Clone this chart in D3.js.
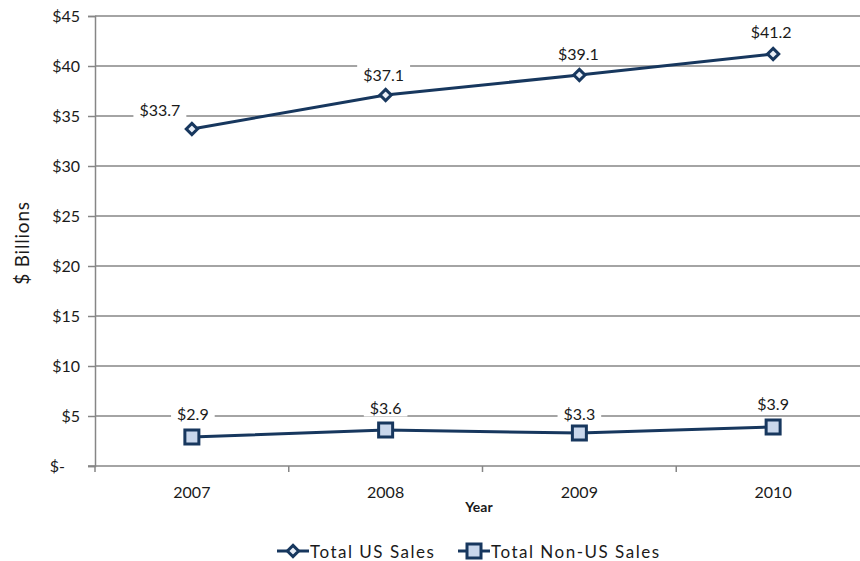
<!DOCTYPE html>
<html><head><meta charset="utf-8">
<script src="https://cdn.jsdelivr.net/npm/d3@7"></script>
<style>body{margin:0;background:#fff}svg{display:block}</style>
</head><body>
<script>
const years = ["2007","2008","2009","2010"];
const usSales = [33.7, 37.1, 39.1, 41.2];
const nonUsSales = [2.9, 3.6, 3.3, 3.9];
const seriesNames = ["Total US Sales","Total Non-US Sales"];
const yTicks = [0,5,10,15,20,25,30,35,40,45];

const W = 860, H = 561;
const font = "Lato, 'Open Sans', sans-serif";
const navy = "#17375e", grid = "#868686", txt = "#1a1a1a";
const svg = d3.select("body").append("svg").attr("width", W).attr("height", H);

const x = d3.scaleBand().domain(years).range([95, 870]).padding(0);
const y = d3.scaleLinear().domain([0,45]).range([466,16]);
const cx = d => x(d) + x.bandwidth()/2;

// gridlines
svg.append("g").selectAll("line").data(yTicks.filter(t=>t>0)).join("line")
  .attr("x1", 95).attr("x2", W).attr("y1", d=>y(d)).attr("y2", d=>y(d))
  .attr("stroke", grid).attr("stroke-width", 1.5);

// y axis
const yAxis = d3.axisLeft(y).tickValues(yTicks).tickSize(7).tickPadding(8)
  .tickFormat(d => d === 0 ? "$-" : "$" + d);
const gy = svg.append("g").attr("transform","translate(95,0)").call(yAxis);
gy.select(".domain").attr("stroke", grid).attr("stroke-width",1.5);
gy.selectAll(".tick line").attr("stroke", grid).attr("stroke-width",1.5);
gy.selectAll("text").attr("font-family", font).attr("font-size", 16).attr("fill", txt);
gy.selectAll(".tick").filter(d=>d===0).select("text").attr("dx", -15);

// x axis
const gx = svg.append("g").attr("transform","translate(0,466)");
gx.append("line").attr("x1",88).attr("x2",W).attr("stroke",grid).attr("stroke-width",1.5);
gx.selectAll("line.t").data(years).join("line").attr("class","t")
  .attr("x1", d=>x(d)).attr("x2", d=>x(d)).attr("y1",0).attr("y2",6)
  .attr("stroke",grid).attr("stroke-width",1.5);
gx.selectAll("text").data(years).join("text")
  .attr("x", d=>cx(d)).attr("y", 32).attr("text-anchor","middle")
  .attr("font-family", font).attr("font-size", 16).attr("fill", txt).text(d=>d);

// axis titles
svg.append("text").attr("x", 479).attr("y", 512).attr("text-anchor","middle")
  .attr("font-family", font).attr("font-size", 14).attr("font-weight","bold").attr("fill", txt).text("Year");
svg.append("text").attr("transform","translate(29,243) rotate(-90)").attr("text-anchor","middle")
  .attr("font-family", font).attr("font-size", 19).attr("letter-spacing", 0.8).attr("fill", txt).text("$ Billions");

const line = d3.line().x((d,i)=>cx(years[i])).y(d=>y(d));

function diamond(g, px, py){
  g.append("path").attr("d", d3.symbol(d3.symbolDiamond2, 80)())
    .attr("transform",`translate(${px},${py})`)
    .attr("fill","#e8eef7").attr("stroke",navy).attr("stroke-width",3);
}
function square(g, px, py){
  g.append("rect").attr("x",px-7).attr("y",py-7).attr("width",14).attr("height",14)
    .attr("fill","#c9d7ec").attr("stroke",navy).attr("stroke-width",3);
}

function drawSeries(vals, shape, labelOffsets){
  const g = svg.append("g");
  g.append("path").attr("d", line(vals)).attr("fill","none").attr("stroke",navy).attr("stroke-width",3);
  vals.forEach((v,i)=>{
    const px = cx(years[i]), py = y(v);
    if (shape === "diamond") diamond(g, px, py); else square(g, px, py);
    const [dx, dy] = labelOffsets[i];
    const label = "$" + v.toFixed(1);
    const t = svg.append("text").attr("x", px+dx).attr("y", py+dy).attr("text-anchor","middle")
      .attr("dominant-baseline","central")
      .attr("font-family", font).attr("font-size", 16).attr("fill", txt).text(label);
    const bb = t.node().getBBox();
    svg.insert("rect", () => t.node()).attr("x", bb.x-6).attr("y", bb.y).attr("width", bb.width+12).attr("height", bb.height)
      .attr("fill","#fff");
  });
}
drawSeries(usSales, "diamond", [[-32,-20],[-2,-21],[-1,-22],[-2,-23]]);
drawSeries(nonUsSales, "square", [[1,-24],[0,-23],[0,-20],[0,-24]]);

// legend
const lg = svg.append("g").attr("transform","translate(0,551)");
const items = [{name:seriesNames[0], shape:"diamond", x0:277},{name:seriesNames[1], shape:"square", x0:458}];
items.forEach(it=>{
  lg.append("line").attr("x1",it.x0).attr("x2",it.x0+32).attr("stroke",navy).attr("stroke-width",3);
  if (it.shape==="diamond") diamond(lg, it.x0+16, 0); else square(lg, it.x0+16, 0);
  lg.append("text").attr("x", it.x0+33).attr("y",0).attr("dominant-baseline","central")
    .attr("font-family", font).attr("font-size", 17).attr("letter-spacing", 1.5).attr("fill", txt).text(it.name);
});
</script>
</body></html>
